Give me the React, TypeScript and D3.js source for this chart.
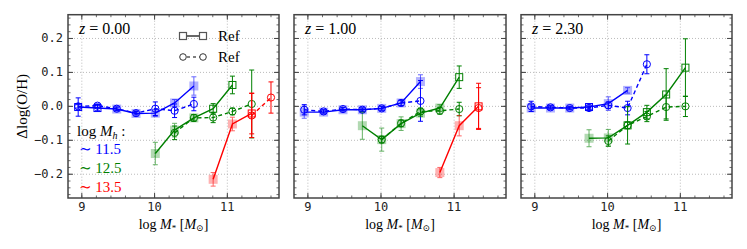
import * as d3 from "d3";

// mass bins (log M*)
const bins = [8.95, 9.215, 9.48, 9.745, 10.01, 10.275, 10.54, 10.805, 11.07, 11.335, 11.6];

const redshifts = ["0.00", "1.00", "2.30"];
const colors = ["#0000ff", "#008000", "#ff0000"];
const haloLabels = ["11.5", "12.5", "13.5"];

// each series: start bin index, values, errors, filled flag (solid only)
// z = 0.00
const z0BlueSolid = { start: 0, y: [-0.002, -0.005, -0.008, -0.021, -0.02, 0.01, 0.06], err: [0.027, 0.008, 0.006, 0.008, 0.01, 0.01, 0.027], fill: [0, 0, 1, 1, 1, 1, 1] };
const z0BlueDash = { start: 0, y: [0.0, 0.002, -0.007, -0.02, -0.007, -0.013, 0.007], err: [0.005, 0.005, 0.005, 0.005, 0.02, 0.02, 0.02] };
const z0GreenSolid = { start: 4, y: [-0.139, -0.07, -0.034, -0.007, 0.063], err: [0.033, 0.02, 0.01, 0.015, 0.026], fill: [1, 1, 1, 0, 0] };
const z0GreenDash = { start: 5, y: [-0.078, -0.034, -0.033, -0.015, 0.007], err: [0.02, 0.01, 0.015, 0.01, 0.1] };
const z0RedSolid = { start: 7, y: [-0.215, -0.052, -0.021], err: [0.02, 0.02, 0.06], fill: [1, 1, 0] };
const z0RedDash = { start: 9, y: [-0.027, 0.026], err: [0.065, 0.046] };

// z = 1.00
const z1BlueSolid = { start: 0, y: [-0.017, -0.017, -0.01, -0.01, -0.006, 0.01, 0.073], err: [0.018, 0.006, 0.006, 0.006, 0.006, 0.008, 0.02], fill: [1, 1, 1, 1, 1, 1, 1] };
const z1BlueDash = { start: 0, y: [-0.01, -0.015, -0.008, -0.01, -0.006, 0.01, 0.016], err: [0.015, 0.005, 0.005, 0.005, 0.005, 0.008, 0.06] };
const z1GreenSolid = { start: 3, y: [-0.057, -0.098, -0.051, -0.02, -0.005, 0.086], err: [0.04, 0.034, 0.02, 0.01, 0.01, 0.033], fill: [1, 1, 1, 1, 1, 0] };
const z1GreenDash = { start: 4, y: [-0.098, -0.05, -0.015, -0.013, -0.008], err: [0.01, 0.01, 0.01, 0.01, 0.02] };
const z1RedSolid = { start: 7, y: [-0.195, -0.057, 0.0], err: [0.015, 0.03, 0.068], fill: [1, 1, 0] };
const z1RedDash = { start: 9, y: [-0.005], err: [0.06] };

// z = 2.30
const z2BlueSolid = { start: 0, y: [-0.005, -0.005, -0.005, -0.002, 0.008, 0.047], err: [0.01, 0.005, 0.005, 0.006, 0.02, 0.008], fill: [1, 1, 1, 0, 1, 1] };
const z2BlueDash = { start: 0, y: [0.0, -0.003, -0.005, -0.005, 0.003, -0.005, 0.124], err: [0.015, 0.005, 0.005, 0.005, 0.01, 0.02, 0.028] };
const z2GreenSolid = { start: 3, y: [-0.094, -0.093, -0.056, -0.017, 0.035, 0.114], err: [0.025, 0.025, 0.055, 0.02, 0.076, 0.085], fill: [1, 1, 0, 0, 0, 0] };
const z2GreenDash = { start: 4, y: [-0.102, -0.056, -0.03, -0.002, 0.0], err: [0.015, 0.01, 0.015, 0.035, 0.03] };

const panels = [
  { solid: [z0BlueSolid, z0GreenSolid, z0RedSolid], dash: [z0BlueDash, z0GreenDash, z0RedDash] },
  { solid: [z1BlueSolid, z1GreenSolid, z1RedSolid], dash: [z1BlueDash, z1GreenDash, z1RedDash] },
  { solid: [z2BlueSolid, z2GreenSolid], dash: [z2BlueDash, z2GreenDash] },
];

const xTicks = [9, 10, 11];
const yTicks = [-0.2, -0.1, 0.0, 0.1, 0.2];

const W = 747, H = 249;
const panelX = [[68, 279], [294, 506], [521, 732]];
const top = 14.7, bottom = 198;
const mono = "'DejaVu Sans Mono', monospace";
const serif = "'Liberation Serif', 'DejaVu Serif', serif";
const frame = "#444";

function pts(s: { start: number; y: number[]; err: number[] }) {
  return s.y.map((v, i) => ({ x: bins[s.start + i], y: v, e: s.err[i], i }));
}

function Panel({ idx }: { idx: number }) {
  const [x0, x1] = panelX[idx];
  const x = d3.scaleLinear().domain([8.81, 11.71]).range([x0, x1]);
  const y = d3.scaleLinear().domain([-0.27, 0.27]).range([bottom, top]);
  const line = d3.line<{ x: number; y: number }>().x(d => x(d.x)).y(d => y(d.y));
  const p = panels[idx];
  const xMinor = d3.range(8.8, 11.71, 0.2).filter(v => v >= 8.81);
  const yMinor = d3.range(-0.26, 0.27, 0.02);

  const errBar = (d: { x: number; y: number; e: number }, c: string, key: string, op = 1) => (
    <g key={key} stroke={c} strokeWidth={1} opacity={op}>
      <line x1={x(d.x)} x2={x(d.x)} y1={y(d.y - d.e)} y2={y(d.y + d.e)} />
      <line x1={x(d.x) - 2.5} x2={x(d.x) + 2.5} y1={y(d.y - d.e)} y2={y(d.y - d.e)} />
      <line x1={x(d.x) - 2.5} x2={x(d.x) + 2.5} y1={y(d.y + d.e)} y2={y(d.y + d.e)} />
    </g>
  );

  return (
    <g>
      {/* grid */}
      {xTicks.map(t => (
        <line key={"gx" + t} x1={x(t)} x2={x(t)} y1={top} y2={bottom} stroke="#aaa" strokeWidth={0.8} strokeDasharray="1,2" />
      ))}
      {yTicks.map(t => (
        <line key={"gy" + t} x1={x0} x2={x1} y1={y(t)} y2={y(t)} stroke="#aaa" strokeWidth={0.8} strokeDasharray="1,2" />
      ))}

      {/* dashed series with circles */}
      {p.dash.map((s, k) => {
        const d = pts(s);
        return (
          <g key={"d" + k}>
            <path d={line(d) || ""} fill="none" stroke={colors[k]} strokeWidth={1.4} strokeDasharray="4,3" />
            {d.map(q => errBar(q, colors[k], "de" + q.i))}
            {d.map(q => (
              <circle key={"dc" + q.i} cx={x(q.x)} cy={y(q.y)} r={3.6} fill="none" stroke={colors[k]} strokeWidth={1} />
            ))}
          </g>
        );
      })}

      {/* solid series with squares */}
      {p.solid.map((s, k) => {
        const d = pts(s);
        return (
          <g key={"s" + k}>
            <path d={line(d) || ""} fill="none" stroke={colors[k]} strokeWidth={1.4} />
            {d.map(q => errBar(q, colors[k], "se" + q.i, s.fill[q.i] ? 0.6 : 1))}
            {d.map(q =>
              s.fill[q.i] ? (
                <rect key={"sq" + q.i} x={x(q.x) - 4.5} y={y(q.y) - 4.5} width={9} height={9} fill={colors[k]} fillOpacity={0.3} />
              ) : (
                <rect key={"sq" + q.i} x={x(q.x) - 3.5} y={y(q.y) - 3.5} width={7} height={7} fill="none" stroke={colors[k]} strokeWidth={1} />
              )
            )}
          </g>
        );
      })}

      {/* ticks on all sides */}
      {xMinor.map(t => (
        <g key={"xm" + t} stroke={frame} strokeWidth={0.8}>
          <line x1={x(t)} x2={x(t)} y1={bottom} y2={bottom - 2.5} />
          <line x1={x(t)} x2={x(t)} y1={top} y2={top + 2.5} />
        </g>
      ))}
      {yMinor.map(t => (
        <g key={"ym" + t} stroke={frame} strokeWidth={0.8}>
          <line x1={x0} x2={x0 + 2.5} y1={y(t)} y2={y(t)} />
          <line x1={x1} x2={x1 - 2.5} y1={y(t)} y2={y(t)} />
        </g>
      ))}
      {xTicks.map(t => (
        <g key={"xt" + t}>
          <line x1={x(t)} x2={x(t)} y1={bottom} y2={bottom - 5} stroke={frame} strokeWidth={1} />
          <line x1={x(t)} x2={x(t)} y1={top} y2={top + 5} stroke={frame} strokeWidth={1} />
          <text x={x(t)} y={bottom + 13} textAnchor="middle" fontFamily={mono} fontSize={12} fill="#222">{t}</text>
        </g>
      ))}
      {yTicks.map(t => (
        <g key={"yt" + t}>
          <line x1={x0} x2={x0 + 5} y1={y(t)} y2={y(t)} stroke={frame} strokeWidth={1} />
          <line x1={x1} x2={x1 - 5} y1={y(t)} y2={y(t)} stroke={frame} strokeWidth={1} />
          {idx === 0 && (
            <text x={x0 - 5} y={y(t) + 4} textAnchor="end" fontFamily={mono} fontSize={12} fill="#222">
              {t === 0 ? "0.0" : t < 0 ? "\u2212" + Math.abs(t).toFixed(1) : t.toFixed(1)}
            </text>
          )}
        </g>
      ))}
      <rect x={x0} y={top} width={x1 - x0} height={bottom - top} fill="none" stroke={frame} strokeWidth={1.5} />

      {/* redshift label */}
      <text x={x0 + 11} y={top + 19} fontFamily={serif} fontSize={16} fill="#000">
        <tspan fontStyle="italic">z</tspan>
        <tspan> = {redshifts[idx]}</tspan>
      </text>

      {/* x label */}
      <text x={(x0 + x1) / 2} y={229} textAnchor="middle" fontFamily={serif} fontSize={14} fill="#000">
        log <tspan fontStyle="italic">M</tspan>
        <tspan fontSize={9} dy={2}>*</tspan>
        <tspan dy={-2}> [</tspan>
        <tspan fontStyle="italic">M</tspan>
        <tspan fontSize={9} dy={2}>{"\u2299"}</tspan>
        <tspan dy={-2}>]</tspan>
      </text>
    </g>
  );
}

function Legend() {
  const lx = 183, rx = 203;
  return (
    <g>
      <line x1={lx} x2={rx} y1={36} y2={36} stroke="#000" strokeWidth={1.2} />
      <rect x={lx - 3.5} y={32.5} width={7} height={7} fill="#fff" stroke="#555" strokeWidth={1.2} />
      <rect x={rx - 3.5} y={32.5} width={7} height={7} fill="#fff" stroke="#555" strokeWidth={1.2} />
      <text x={218} y={41} fontFamily={serif} fontSize={15}>Ref</text>
      <line x1={lx} x2={rx} y1={57} y2={57} stroke="#000" strokeWidth={1.2} strokeDasharray="3,3" strokeDashoffset={-4} />
      <circle cx={lx} cy={57} r={3.3} fill="#fff" stroke="#333" strokeWidth={1} />
      <circle cx={rx} cy={57} r={3.3} fill="#fff" stroke="#333" strokeWidth={1} />
      <text x={218} y={62} fontFamily={serif} fontSize={15}>Ref</text>

      <text x={77} y={136} fontFamily={serif} fontSize={15}>
        log <tspan fontStyle="italic">M</tspan>
        <tspan fontSize={10} dy={3} fontStyle="italic">h</tspan>
        <tspan dy={-3}> :</tspan>
      </text>
      {haloLabels.map((l, i) => (
        <text key={l} x={79} y={154 + i * 19} fontFamily={serif} fontSize={15} fill={colors[i]}>
          {"\u223C " + l}
        </text>
      ))}
    </g>
  );
}

export default function App() {
  return (
    <svg width={W} height={H} style={{ position: "absolute", left: 0, top: 0, background: "#fff" }}>
      {[0, 1, 2].map(i => <Panel key={i} idx={i} />)}
      <Legend />
      <text transform={`translate(27,${(top + bottom) / 2}) rotate(-90)`} textAnchor="middle" fontFamily={serif} fontSize={15}>
        {"\u0394log(O/H)"}
      </text>
    </svg>
  );
}
